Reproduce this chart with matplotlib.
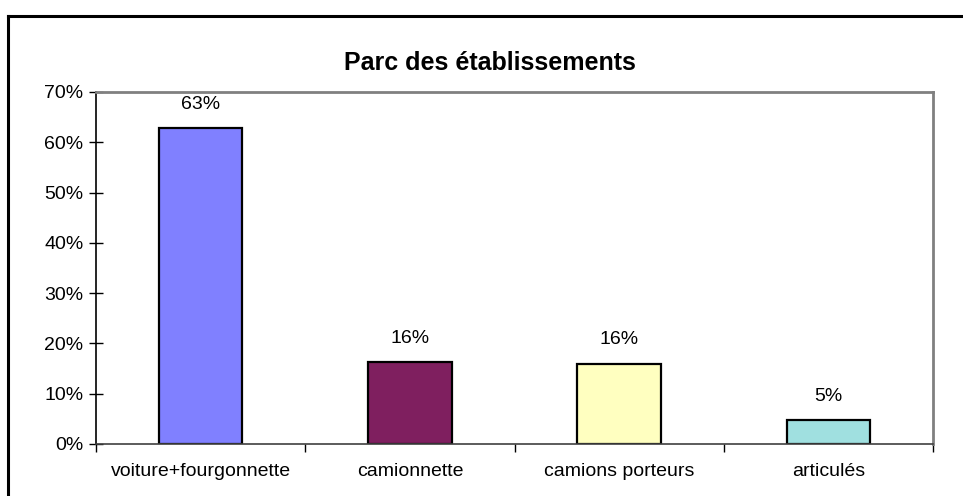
import matplotlib.pyplot as plt
from matplotlib.lines import Line2D
from matplotlib.ticker import FixedLocator, PercentFormatter

categories = ["voiture+fourgonnette", "camionnette", "camions porteurs", "articulés"]
shares = [62.8, 16.3, 16.0, 4.8]
labels = ["63%", "16%", "16%", "5%"]
colors = ["#8080FF", "#7F1F5F", "#FFFFC0", "#A0E0E0"]

plt.rcParams.update({"font.family": ["Liberation Sans", "DejaVu Sans"], "font.size": 14})

W, H = 963, 496
fig = plt.figure(figsize=(W / 100, H / 100), dpi=100, facecolor="white")

# outer chart frame (left and top visible, rest runs off the picture)
fig.add_artist(Line2D([8 / W, 8 / W], [0, 1 - 16 / H], transform=fig.transFigure, color="black", linewidth=2.2))
fig.add_artist(Line2D([8 / W, 1], [1 - 16 / H, 1 - 16 / H], transform=fig.transFigure, color="black", linewidth=2.2))

ax = fig.add_axes([96 / W, 1 - 444 / H, (933 - 96) / W, (444 - 92) / H])
positions = list(range(len(categories)))
bars = ax.bar(positions, shares, width=0.4, color=colors, edgecolor="black", linewidth=1.6)

for bar, text in zip(bars, labels):
    ax.annotate(text, (bar.get_x() + bar.get_width() / 2, bar.get_height()),
                xytext=(0, 11), textcoords="offset points", ha="center", va="bottom", fontsize=14)

ax.set_xlim(-0.5, len(categories) - 0.5)
ax.set_ylim(0, 70)
ax.set_yticks(range(0, 71, 10))
ax.yaxis.set_major_formatter(PercentFormatter(decimals=0))
ax.tick_params(axis="y", direction="inout", length=10, width=1, pad=4, labelsize=14)

ax.set_xticks(positions)
ax.set_xticklabels(categories, fontsize=14)
ax.xaxis.set_minor_locator(FixedLocator([p - 0.5 for p in positions] + [len(categories) - 0.5]))
ax.tick_params(axis="x", which="major", length=0, pad=14)
ax.tick_params(axis="x", which="minor", direction="out", length=6, width=1)

for side in ["top", "right"]:
    ax.spines[side].set_color("#808080")
    ax.spines[side].set_linewidth(2)
ax.spines["left"].set_color("black")
ax.spines["bottom"].set_color("#404040")
ax.spines["left"].set_linewidth(1.2)
ax.spines["bottom"].set_linewidth(1.2)

fig.text(490 / W, 1 - 63 / H, "Parc des établissements", ha="center", va="center",
         fontsize=18, fontweight="bold")

fig.savefig("out.png", dpi=100, facecolor="white")
